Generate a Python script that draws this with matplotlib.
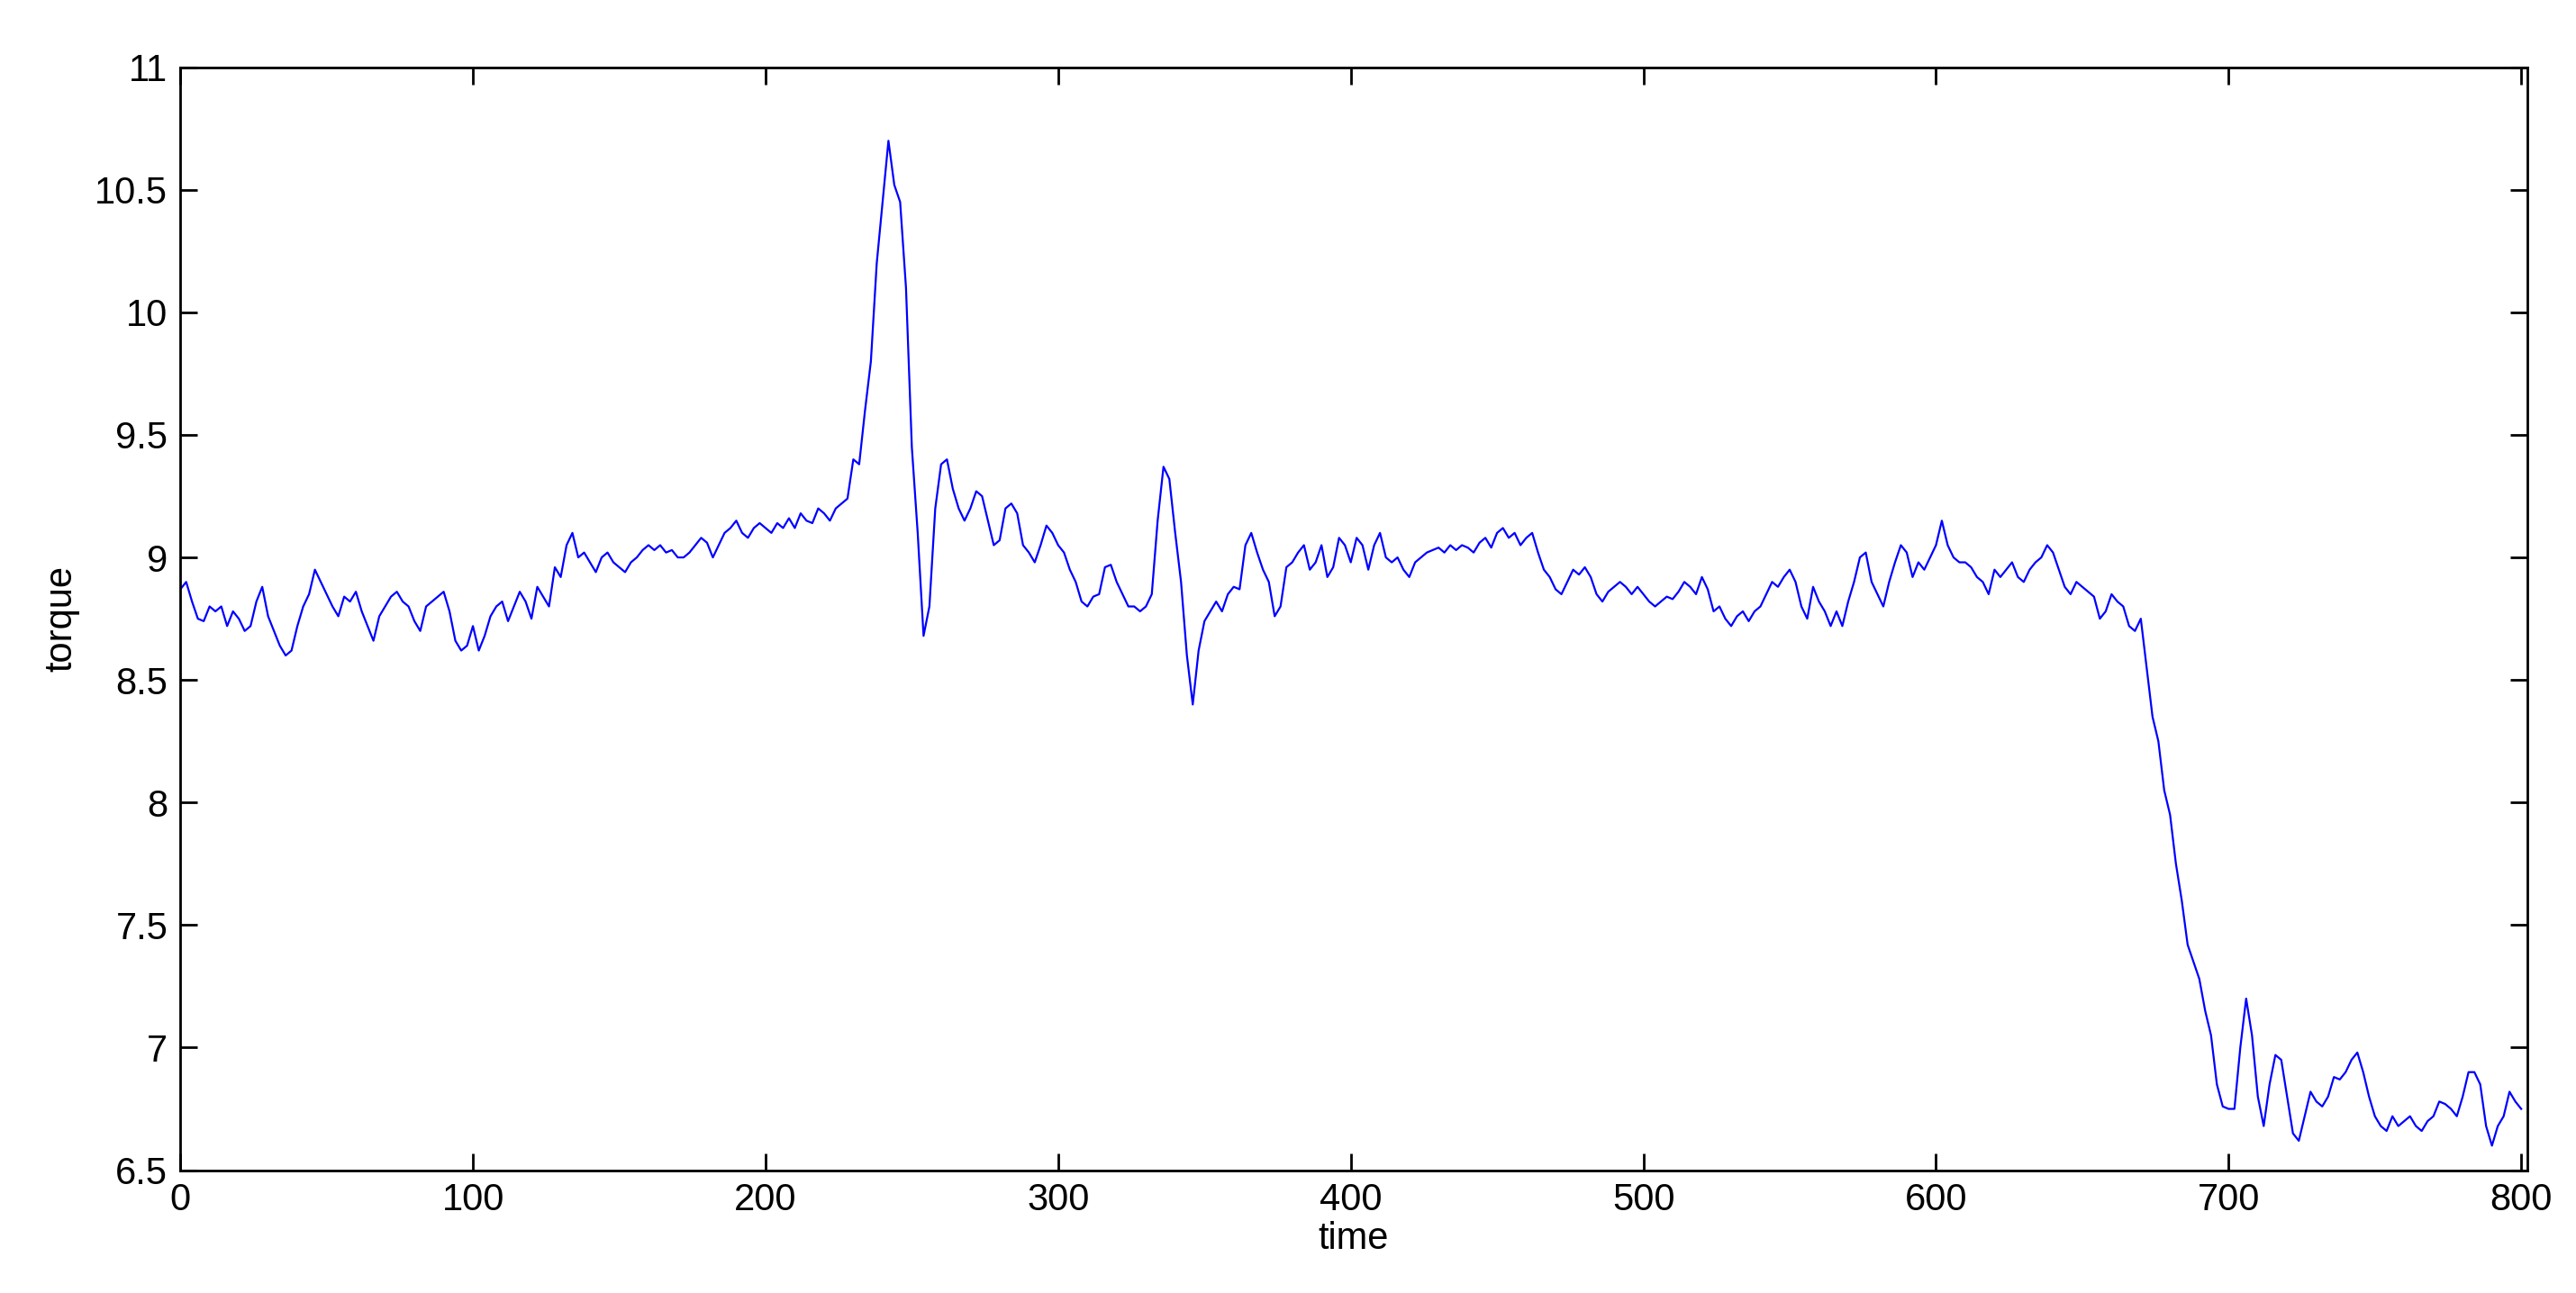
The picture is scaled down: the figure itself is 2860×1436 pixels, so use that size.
import numpy as np
from matplotlib import pyplot as plt

t_step = 2
torque = [
    8.87, 8.9, 8.82, 8.75, 8.74, 8.8, 8.78, 8.8, 8.72, 8.78, 8.75, 8.7, 8.72, 8.82, 8.88, 8.76, 8.7, 8.64, 8.6, 8.62, 8.72, 8.8, 8.85, 8.95, 8.9,
    8.85, 8.8, 8.76, 8.84, 8.82, 8.86, 8.78, 8.72, 8.66, 8.76, 8.8, 8.84, 8.86, 8.82, 8.8, 8.74, 8.7, 8.8, 8.82, 8.84, 8.86, 8.78, 8.66, 8.62, 8.64, 8.72,
    8.62, 8.68, 8.76, 8.8, 8.82, 8.74, 8.8, 8.86, 8.82, 8.75, 8.88, 8.84, 8.8, 8.96, 8.92, 9.05, 9.1, 9.0, 9.02, 8.98, 8.94, 9.0, 9.02, 8.98, 8.96,
    8.94, 8.98, 9.0, 9.03, 9.05, 9.03, 9.05, 9.02, 9.03, 9.0, 9.0, 9.02, 9.05, 9.08, 9.06, 9.0, 9.05, 9.1, 9.12, 9.15, 9.1, 9.08, 9.12, 9.14, 9.12,
    9.1, 9.14, 9.12, 9.16, 9.12, 9.18, 9.15, 9.14, 9.2, 9.18, 9.15, 9.2, 9.22, 9.24,
    9.4, 9.38, 9.6, 9.8, 10.2, 10.45, 10.7, 10.52, 10.45, 10.1, 9.45, 9.1, 8.68, 8.8, 9.2, 9.38, 9.4, 9.28, 9.2, 9.15,
    9.2, 9.27, 9.25, 9.15, 9.05, 9.07, 9.2, 9.22, 9.18, 9.05, 9.02, 8.98, 9.05, 9.13, 9.1, 9.05, 9.02, 8.95, 8.9, 8.82,
    8.8, 8.84, 8.85, 8.96, 8.97, 8.9, 8.85, 8.8, 8.8, 8.78, 8.8, 8.85, 9.15, 9.37, 9.32, 9.1, 8.9, 8.6, 8.4, 8.62,
    8.74, 8.78, 8.82, 8.78, 8.85, 8.88, 8.87, 9.05, 9.1, 9.02, 8.95, 8.9, 8.76, 8.8, 8.96, 8.98, 9.02, 9.05, 8.95, 8.98,
    9.05, 8.92, 8.96, 9.08, 9.05, 8.98, 9.08, 9.05, 8.95, 9.05, 9.1, 9.0, 8.98, 9.0, 8.95, 8.92, 8.98, 9.0, 9.02, 9.03,
    9.04, 9.02, 9.05, 9.03, 9.05, 9.04, 9.02, 9.06, 9.08, 9.04, 9.1, 9.12, 9.08, 9.1, 9.05, 9.08, 9.1, 9.02, 8.95, 8.92,
    8.87, 8.85, 8.9, 8.95, 8.93, 8.96, 8.92, 8.85, 8.82, 8.86, 8.88, 8.9, 8.88, 8.85, 8.88, 8.85, 8.82, 8.8, 8.82, 8.84,
    8.83, 8.86, 8.9, 8.88, 8.85, 8.92, 8.87, 8.78, 8.8, 8.75, 8.72, 8.76, 8.78, 8.74, 8.78, 8.8, 8.85, 8.9, 8.88, 8.92,
    8.95, 8.9, 8.8, 8.75, 8.88, 8.82, 8.78, 8.72, 8.78, 8.72, 8.82, 8.9, 9.0, 9.02, 8.9, 8.85, 8.8, 8.9, 8.98, 9.05,
    9.02, 8.92, 8.98, 8.95, 9.0, 9.05, 9.15, 9.05, 9.0, 8.98, 8.98, 8.96, 8.92, 8.9, 8.85, 8.95, 8.92, 8.95, 8.98, 8.92,
    8.9, 8.95, 8.98, 9.0, 9.05, 9.02, 8.95, 8.88, 8.85, 8.9, 8.88, 8.86, 8.84, 8.75, 8.78, 8.85, 8.82, 8.8, 8.72, 8.7,
    8.75, 8.55, 8.35, 8.25, 8.05, 7.95, 7.75, 7.6, 7.42, 7.35, 7.28, 7.15, 7.05, 6.85, 6.76, 6.75, 6.75, 7.0, 7.2, 7.05,
    6.8, 6.68, 6.85, 6.97, 6.95, 6.8, 6.65, 6.62, 6.72, 6.82, 6.78, 6.76, 6.8, 6.88, 6.87, 6.9, 6.95, 6.98, 6.9, 6.8,
    6.72, 6.68, 6.66, 6.72, 6.68, 6.7, 6.72, 6.68, 6.66, 6.7, 6.72, 6.78, 6.77, 6.75, 6.72, 6.8, 6.9, 6.9, 6.85, 6.68,
    6.6, 6.68, 6.72, 6.82, 6.78, 6.75,
]
time = np.arange(len(torque)) * t_step

y_ticks = [6.5, 7, 7.5, 8, 8.5, 9, 9.5, 10, 10.5, 11]
y_tick_labels = ['6.5', '7', '7.5', '8', '8.5', '9', '9.5', '10', '10.5', '11']
x_ticks = [0, 100, 200, 300, 400, 500, 600, 700, 800]

plt.rcParams['font.family'] = ['Liberation Sans', 'DejaVu Sans']

fig = plt.figure(figsize=(28.6, 14.36), dpi=100)
ax = fig.add_axes([0.07, 0.095, 0.911, 0.853])
ax.plot(time, torque, color='blue', linewidth=1.6)

ax.set_xlim(0, 802)
ax.set_ylim(6.5, 11)
ax.set_xticks(x_ticks)
ax.set_yticks(y_ticks, y_tick_labels)
ax.tick_params(direction='in', top=True, right=True, length=14, width=2,
               labelsize=30, pad=10)
for spine in ax.spines.values():
    spine.set_linewidth(2)

ax.set_xlabel('time', fontsize=30, labelpad=2)
ax.set_ylabel('torque', fontsize=30, labelpad=12)

fig.savefig('out.png', dpi=100)
